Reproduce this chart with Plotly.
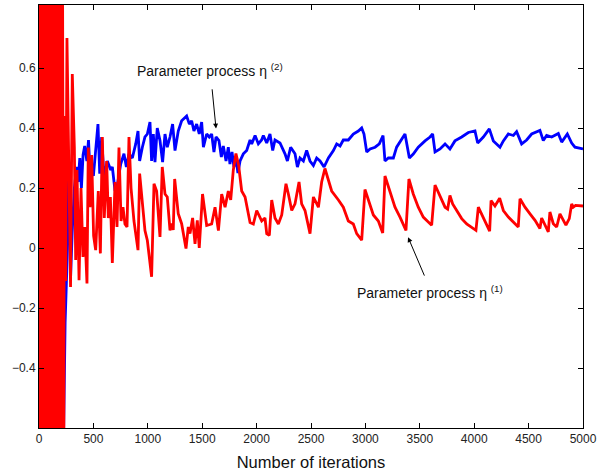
import plotly.graph_objects as go

# ---- red series: parameter process eta(1) ----
red_iter = [0, 6, 12, 18, 24, 30, 36, 42, 48, 54,
            60, 66, 72, 78, 84, 90, 96, 102, 108, 114,
            120, 126, 132, 138, 144, 150, 156, 162, 168, 174,
            180, 186, 192, 198, 204, 210, 216, 228, 232, 245,
            257, 290, 306, 325, 337, 349, 368, 386, 404, 420,
            441, 453, 469, 484, 502, 521, 545, 564, 582, 600,
            622, 637, 656, 674, 699, 717, 735, 754, 772, 790,
            809, 827, 846, 873, 910, 925, 974, 996, 1035, 1057,
            1081, 1112, 1133, 1158, 1179, 1204, 1219, 1234, 1247, 1280,
            1311, 1351, 1372, 1388, 1412, 1434, 1455, 1473, 1503, 1541,
            1587, 1618, 1649, 1679, 1710, 1740, 1762, 1786, 1810, 1835,
            1863, 1894, 1940, 1970, 2001, 2047, 2077, 2093, 2117, 2139,
            2169, 2200, 2231, 2270, 2292, 2323, 2353, 2390, 2414, 2445,
            2491, 2522, 2568, 2598, 2628, 2690, 2752, 2797, 2843, 2889,
            2920, 2966, 2996, 3027, 3073, 3119, 3159, 3180, 3226, 3272,
            3318, 3373, 3400, 3440, 3486, 3532, 3578, 3609, 3640, 3686,
            3732, 3756, 3777, 3802, 3839, 3885, 3931, 3977, 4016, 4038,
            4084, 4114, 4142, 4155, 4191, 4234, 4268, 4314, 4360, 4405,
            4421, 4467, 4513, 4559, 4604, 4620, 4681, 4696, 4727, 4758,
            4788, 4843, 4874, 4896, 4911, 4932, 5000]
red_value = [0.95, -0.75, 0.95, -0.75, 0.95, -0.75, 0.95, -0.75, 0.95, -0.75,
             0.95, -0.75, 0.95, -0.75, 0.95, -0.75, 0.95, -0.75, 0.95, -0.75,
             0.95, -0.75, 0.95, -0.75, 0.95, -0.75, 0.95, -0.75, 0.95, -0.75,
             0.95, -0.75, 0.95, -0.75, 0.95, -0.75, 0.95, -0.75, 0.44, -0.11,
             0.70, -0.13, 0.58, 0.335, -0.04, 0.26, -0.107, 0.20, -0.03, 0.07,
             -0.118, 0.335, 0.136, 0.31, 0.04, -0.007, 0.19, -0.018, 0.37, 0.10,
             0.29, 0.10, 0.17, -0.05, 0.22, 0.07, 0.335, 0.09, 0.136, 0.08,
             0.07, 0.37, 0.20, 0.09, -0.007, 0.248, 0.058, 0.025, -0.096, 0.214,
             0.19, 0.037, 0.27, 0.18, 0.17, 0.059, 0.081, 0.06, 0.23, 0.114,
             0.081, -0.002, 0.07, 0.048, 0.10, 0.014, 0.092, 0.0, 0.18, 0.075,
             0.08, 0.136, 0.058, 0.18, 0.136, 0.19, 0.16, 0.26, 0.315, 0.275,
             0.19, 0.17, 0.085, 0.08, 0.125, 0.09, 0.10, 0.048, 0.042, 0.16,
             0.10, 0.08, 0.11, 0.214, 0.18, 0.125, 0.147, 0.22, 0.147, 0.125,
             0.048, 0.17, 0.136, 0.22, 0.265, 0.19, 0.16, 0.136, 0.09, 0.08,
             0.048, 0.026, 0.195, 0.16, 0.11, 0.09, 0.05, 0.24, 0.19, 0.136,
             0.103, 0.059, 0.23, 0.18, 0.136, 0.103, 0.087, 0.076, 0.21, 0.17,
             0.136, 0.13, 0.175, 0.147, 0.125, 0.098, 0.08, 0.07, 0.059, 0.136,
             0.103, 0.081, 0.056, 0.158, 0.14, 0.166, 0.125, 0.103, 0.087, 0.07,
             0.164, 0.136, 0.114, 0.092, 0.065, 0.10, 0.054, 0.12, 0.081, 0.07,
             0.114, 0.076, 0.098, 0.147, 0.136, 0.142, 0.14]

# ---- blue series: parameter process eta(2) ----
blue_iter = [0, 15, 60, 120, 180, 225, 240, 255, 270, 290,
             305, 325, 345, 360, 375, 390, 405, 420, 440, 455,
             470, 485, 500, 520, 542, 558, 576, 597, 628, 659,
             674, 699, 720, 751, 781, 803, 827, 858, 889, 910,
             925, 950, 974, 996, 1020, 1035, 1051, 1066, 1087, 1112,
             1136, 1158, 1179, 1204, 1228, 1250, 1280, 1311, 1342, 1357,
             1382, 1403, 1424, 1449, 1473, 1495, 1511, 1541, 1565, 1587,
             1608, 1627, 1654, 1676, 1694, 1719, 1740, 1755, 1774, 1792,
             1810, 1828, 1848, 1878, 1909, 1940, 1955, 1986, 2016, 2046,
             2062, 2093, 2123, 2148, 2169, 2215, 2261, 2283, 2313, 2353,
             2375, 2399, 2430, 2460, 2491, 2522, 2552, 2583, 2620, 2660,
             2706, 2736, 2767, 2797, 2843, 2889, 2935, 2966, 2987, 3012,
             3043, 3089, 3128, 3162, 3180, 3211, 3257, 3287, 3364, 3404,
             3440, 3486, 3548, 3594, 3618, 3640, 3686, 3732, 3777, 3823,
             3885, 3946, 4007, 4032, 4084, 4139, 4176, 4237, 4268, 4314,
             4360, 4390, 4436, 4482, 4528, 4604, 4635, 4666, 4712, 4773,
             4804, 4856, 4896, 4926, 5000]
blue_value = [0.0, -0.65, 0.9, -0.7, 0.9, -0.65, -0.25, -0.08, 0.30, -0.10,
              0.05, 0.20, 0.27, 0.22, 0.30, 0.20, 0.31, 0.34, 0.29, 0.36,
              0.25, 0.28, 0.24, 0.33, 0.413, 0.248, 0.37, 0.236, 0.29, 0.26,
              0.27, 0.19, 0.21, 0.28, 0.314, 0.27, 0.314, 0.30, 0.347, 0.39,
              0.29, 0.336, 0.37, 0.38, 0.42, 0.29, 0.38, 0.286, 0.40, 0.358,
              0.286, 0.38, 0.336, 0.37, 0.413, 0.325, 0.39, 0.424, 0.435, 0.44,
              0.413, 0.424, 0.39, 0.413, 0.38, 0.42, 0.336, 0.38, 0.37, 0.38,
              0.32, 0.37, 0.358, 0.303, 0.34, 0.29, 0.336, 0.28, 0.32, 0.27,
              0.303, 0.25, 0.29, 0.314, 0.325, 0.36, 0.347, 0.375, 0.347, 0.36,
              0.375, 0.35, 0.38, 0.325, 0.36, 0.35, 0.314, 0.29, 0.336, 0.314,
              0.27, 0.30, 0.29, 0.325, 0.29, 0.275, 0.30, 0.29, 0.27, 0.30,
              0.325, 0.347, 0.34, 0.36, 0.36, 0.38, 0.39, 0.40, 0.38, 0.32,
              0.33, 0.336, 0.347, 0.375, 0.29, 0.30, 0.30, 0.336, 0.38, 0.30,
              0.313, 0.336, 0.357, 0.37, 0.38, 0.32, 0.33, 0.347, 0.33, 0.357,
              0.37, 0.385, 0.39, 0.35, 0.37, 0.397, 0.357, 0.336, 0.357, 0.38,
              0.375, 0.388, 0.347, 0.36, 0.38, 0.392, 0.358, 0.375, 0.37, 0.382,
              0.353, 0.38, 0.35, 0.336, 0.33]

x_ticks = [0, 500, 1000, 1500, 2000, 2500, 3000, 3500, 4000, 4500, 5000]
y_ticks = [-0.4, -0.2, 0, 0.2, 0.4, 0.6]
y_tick_labels = ["\u22120.4", "\u22120.2", "0", "0.2", "0.4", "0.6"]

label_eta2 = "Parameter process \u03b7 <sup>(2)</sup>"
label_eta1 = "Parameter process \u03b7 <sup>(1)</sup>"
x_title = "Number of iterations"

FONT = "Liberation Sans, Arial, Helvetica, sans-serif"

fig = go.Figure()
fig.add_trace(go.Scatter(x=blue_iter, y=blue_value, mode="lines",
                         line=dict(color="#0000ff", width=2.8), showlegend=False))
fig.add_trace(go.Scatter(x=red_iter, y=red_value, mode="lines",
                         line=dict(color="#ff0000", width=2.8), showlegend=False))

axis_common = dict(showline=True, linecolor="black", linewidth=1, mirror="ticks",
                   ticks="inside", ticklen=5, tickcolor="black", showgrid=False,
                   zeroline=False, automargin=False,
                   tickfont=dict(family=FONT, size=12, color="#222"))

fig.update_layout(
    width=598, height=475,
    margin=dict(l=39, r=15, t=5, b=47),
    paper_bgcolor="white", plot_bgcolor="white",
    font=dict(family=FONT),
    xaxis=dict(range=[0, 5000], tickvals=x_ticks,
               title=dict(text=x_title, font=dict(family=FONT, size=16.5, color="#111"), standoff=11),
               **axis_common),
    yaxis=dict(range=[-0.6, 0.81], tickvals=y_ticks, ticktext=y_tick_labels,
               **axis_common),
    annotations=[
        dict(x=880, y=0.594, xref="x", yref="y", text=label_eta2, showarrow=False,
             xanchor="left", yanchor="middle", font=dict(family=FONT, size=14, color="#111")),
        dict(x=1627, y=0.398, xref="x", yref="y", ax=1590, ay=0.534, axref="x", ayref="y",
             text="", showarrow=True, arrowhead=2, arrowsize=1, arrowwidth=1, arrowcolor="black"),
        dict(x=2905, y=-0.147, xref="x", yref="y", text=label_eta1, showarrow=False,
             xanchor="left", yanchor="middle", font=dict(family=FONT, size=14, color="#111")),
        dict(x=3392, y=0.036, xref="x", yref="y", ax=3548, ay=-0.097, axref="x", ayref="y",
             text="", showarrow=True, arrowhead=2, arrowsize=1, arrowwidth=1, arrowcolor="black"),
    ],
)

fig.write_html("out.html", config={"displayModeBar": False},
               post_script="document.body.style.margin='0px';")
